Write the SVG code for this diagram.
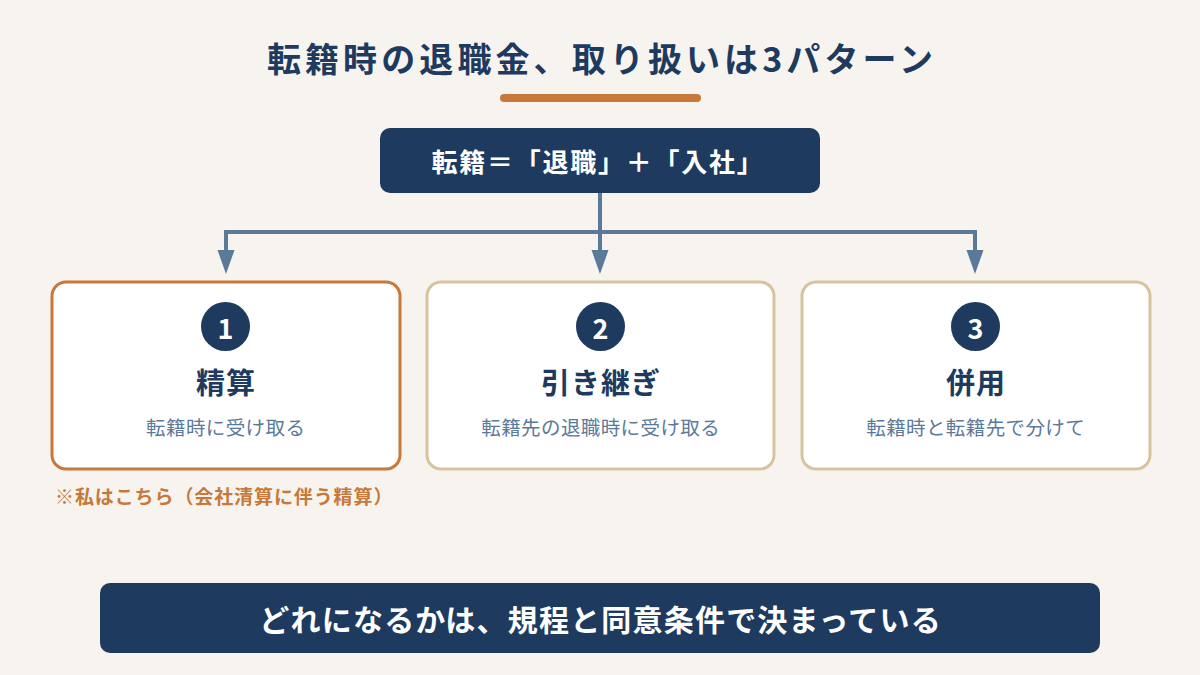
<svg xmlns="http://www.w3.org/2000/svg" width="1200" height="675" viewBox="0 0 1200 675">
<style>
text{font-family:"Noto Sans CJK JP","Noto Sans",sans-serif;text-anchor:middle;dominant-baseline:central}
.dark{fill:#1e3a5f}
.card{fill:#ffffff;stroke:#d6c49e;stroke-width:3}
.card.sel{stroke:#c8783a}
.num{fill:#ffffff;font-weight:700;font-size:27px}
.ttl{fill:#1e3a5f;font-weight:700;font-size:29px;letter-spacing:1px}
.sub{fill:#5b7a9a;font-size:19.5px;letter-spacing:0.4px}
.conn{stroke:#5b7a9a;stroke-width:4;fill:none}
</style>
<rect width="1200" height="675" fill="#f7f4ef"/>
<g id="title">
<text x="602" y="57" class="dark" style="font-size:34px;font-weight:700;letter-spacing:4.1px">転籍時の退職金、取り扱いは3パターン</text>
<rect x="500" y="94" width="201" height="8" rx="4" fill="#c8783a"/>
</g>
<g id="connectors">
<path class="conn" d="M600 193 V250"/>
<path class="conn" d="M226 250 V232 H975 V250"/>
<path d="M217.5 250 L234.5 250 L226 274 Z" fill="#5b7a9a"/>
<path d="M591.5 250 L608.5 250 L600 274 Z" fill="#5b7a9a"/>
<path d="M966.5 250 L983.5 250 L975 274 Z" fill="#5b7a9a"/>
</g>
<g id="top">
<rect x="380" y="128" width="440" height="65" rx="10" class="dark"/>
<text x="598" y="160" style="fill:#ffffff;font-size:26px;font-weight:700;letter-spacing:1.75px">転籍＝「退職」＋「入社」</text>
</g>
<g id="card1">
<rect x="52" y="282" width="348" height="187" rx="14" class="card sel"/>
<circle cx="225.5" cy="326.5" r="24.5" class="dark"/>
<text x="225.5" y="327" class="num">1</text>
<text x="226" y="381" class="ttl">精算</text>
<text x="225.7" y="426" class="sub">転籍時に受け取る</text>
</g>
<g id="note">
<text x="55" y="495" style="text-anchor:start;fill:#c8783a;font-weight:700;font-size:19px;letter-spacing:0.9px">※私はこちら（会社清算に伴う精算）</text>
</g>
<g id="card2">
<rect x="427" y="282" width="347" height="187" rx="14" class="card"/>
<circle cx="600.5" cy="326.5" r="24.5" class="dark"/>
<text x="600.5" y="327" class="num">2</text>
<text x="601" y="381" class="ttl">引き継ぎ</text>
<text x="600.7" y="426" class="sub">転籍先の退職時に受け取る</text>
</g>
<g id="card3">
<rect x="802" y="282" width="348" height="187" rx="14" class="card"/>
<circle cx="975.5" cy="326.5" r="24.5" class="dark"/>
<text x="975.5" y="327" class="num">3</text>
<text x="976" y="381" class="ttl">併用</text>
<text x="975.7" y="426" class="sub">転籍時と転籍先で分けて</text>
</g>
<g id="bottom">
<rect x="100" y="583" width="1000" height="70" rx="10" class="dark"/>
<text x="600.6" y="618" style="fill:#ffffff;font-size:30px;font-weight:700;letter-spacing:1.2px">どれになるかは、規程と同意条件で決まっている</text>
</g>
</svg>
